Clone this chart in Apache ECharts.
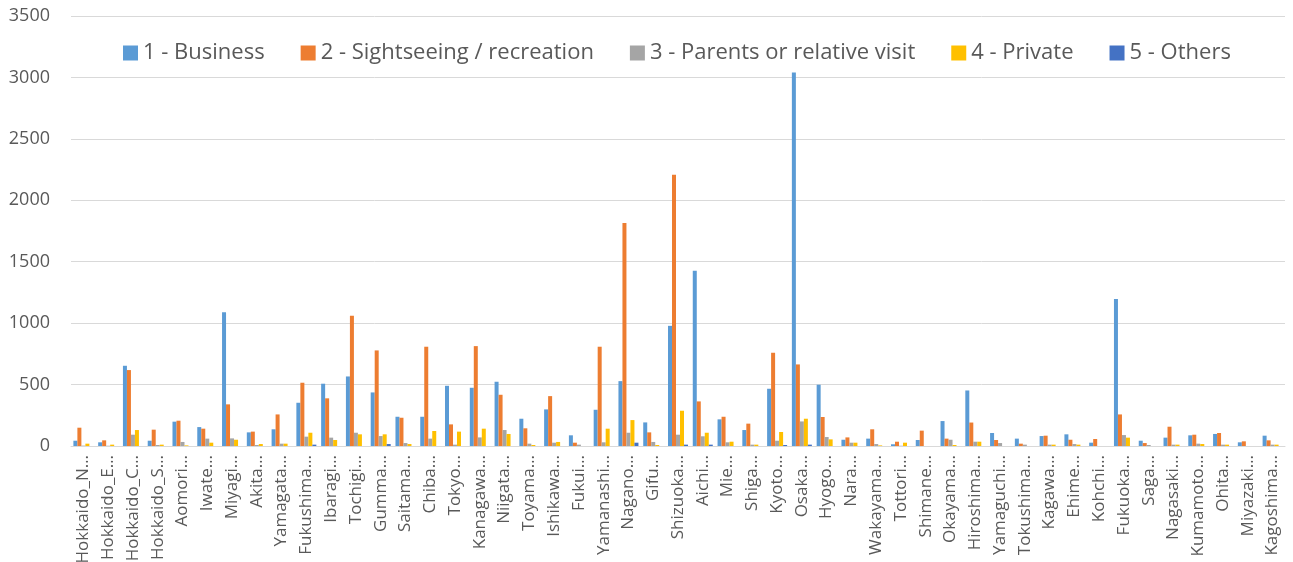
<!DOCTYPE html>
<html>
<head>
<meta charset="utf-8">
<script src="https://cdn.jsdelivr.net/npm/echarts@6/dist/echarts.min.js"></script>
<style>
  html, body { margin: 0; padding: 0; background: #fff; }
  #m1 { width: 1293px; height: 562px; }
</style>
</head>
<body>
<div id="m1"></div>
<script>
var prefectures = ['Hokkaido_N', 'Hokkaido_E', 'Hokkaido_C', 'Hokkaido_S', 'Aomori', 'Iwate', 'Miyagi', 'Akita',
  'Yamagata', 'Fukushima', 'Ibaragi', 'Tochigi', 'Gumma', 'Saitama', 'Chiba', 'Tokyo', 'Kanagawa', 'Niigata',
  'Toyama', 'Ishikawa', 'Fukui', 'Yamanashi', 'Nagano', 'Gifu', 'Shizuoka', 'Aichi', 'Mie', 'Shiga', 'Kyoto',
  'Osaka', 'Hyogo', 'Nara', 'Wakayama', 'Tottori', 'Shimane', 'Okayama', 'Hiroshima', 'Yamaguchi', 'Tokushima',
  'Kagawa', 'Ehime', 'Kohchi', 'Fukuoka', 'Saga', 'Nagasaki', 'Kumamoto', 'Ohita', 'Miyazaki', 'Kagoshima'];

var business = [43, 30, 653, 43, 198, 154, 1089, 111, 136, 352, 507, 566, 436, 238, 238, 490, 474, 523,
  222, 298, 87, 295, 528, 192, 978, 1427, 217, 130, 466, 3040, 499, 51, 60, 14, 49, 203, 452, 106, 60,
  81, 95, 27, 1197, 43, 68, 87, 98, 30, 84];
var sightseeing = [149, 46, 618, 133, 206, 141, 339, 117, 257, 515, 388, 1060, 778, 230, 808, 176, 813, 417,
  144, 406, 27, 808, 1815, 111, 2207, 363, 238, 182, 759, 664, 236, 70, 136, 35, 125, 60, 191, 49, 19,
  84, 51, 57, 257, 24, 157, 92, 106, 38, 46];
var parents = [3, 2, 92, 8, 33, 60, 62, 8, 19, 76, 68, 108, 81, 24, 60, 11, 70, 130,
  19, 27, 11, 30, 108, 33, 92, 79, 30, 11, 43, 200, 73, 27, 16, 2, 0, 51, 35, 24, 11,
  11, 16, 0, 89, 8, 11, 19, 11, 0, 11];
var privateTrip = [19, 11, 130, 11, 5, 27, 51, 16, 19, 108, 49, 95, 95, 16, 122, 117, 141, 98,
  8, 33, 0, 141, 211, 8, 287, 108, 35, 11, 114, 222, 54, 27, 5, 27, 0, 8, 35, 0, 0,
  11, 11, 0, 68, 0, 11, 16, 11, 0, 11];
var others = [0, 0, 0, 0, 0, 0, 0, 0, 0, 11, 0, 0, 16, 0, 0, 0, 0, 0,
  0, 0, 0, 0, 27, 0, 11, 11, 0, 0, 8, 11, 0, 0, 0, 0, 0, 0, 0, 0, 0,
  0, 0, 0, 0, 0, 0, 0, 0, 0, 0];

var seriesNames = ['1 - Business', '2 - Sightseeing / recreation', '3 - Parents or relative visit', '4 - Private', '5 - Others'];
var seriesData = [business, sightseeing, parents, privateTrip, others];
var colors = ['#5B9BD5', '#ED7D31', '#A5A5A5', '#FFC000', '#4472C4'];

var myChart = echarts.init(document.getElementById('m1'));

var series = [];
for (var i = 0; i < seriesNames.length; i++) {
  series.push({
    name: seriesNames[i],
    type: 'bar',
    data: seriesData[i],
    barWidth: 4,
    barGap: '0%',
    itemStyle: { color: colors[i] }
  });
}

var option = {
  animation: false,
  color: colors,
  textStyle: { fontFamily: 'Open Sans' },
  legend: {
    top: 37,
    left: 118,
    itemWidth: 15,
    itemHeight: 15,
    itemGap: 36,
    icon: 'rect',
    textStyle: { color: '#595959', fontSize: 22 },
    data: seriesNames
  },
  grid: { left: 71, right: 8, top: 16, bottom: 116, outerBoundsMode: 'none' },
  xAxis: {
    type: 'category',
    data: prefectures,
    axisTick: { show: false },
    axisLine: { lineStyle: { color: '#D9D9D9', width: 1 } },
    axisLabel: {
      interval: 0,
      rotate: 90,
      margin: 9,
      color: '#595959',
      fontSize: 17,
      formatter: function (v) { return v + '…'; }
    }
  },
  yAxis: {
    type: 'value',
    min: 0,
    max: 3500,
    interval: 500,
    axisLine: { show: false },
    axisTick: { show: false },
    splitLine: { lineStyle: { color: '#D9D9D9', width: 1 } },
    axisLabel: { color: '#595959', fontSize: 18, margin: 21, formatter: function (v) { return String(v); } }
  },
  series: series
};

myChart.setOption(option);
window.addEventListener('resize', function () {
  myChart.resize();
});
</script>
</body>
</html>
